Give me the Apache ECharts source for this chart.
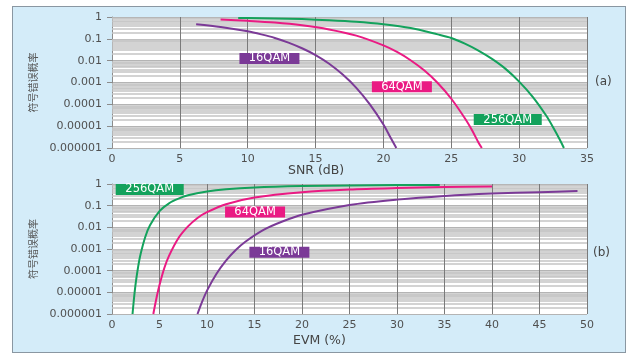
<!DOCTYPE html>
<html>
<head>
<meta charset="utf-8">
<script src="https://cdn.jsdelivr.net/npm/echarts@6/dist/echarts.min.js"></script>
<style>
  html, body { margin:0; padding:0; background:#ffffff; }
  #panel { position:absolute; left:12px; top:6px; width:612px; height:345px; background:#d4ecf9; border:1.5px solid #8a97a2; }
  #chart { position:absolute; left:0; top:0; width:640px; height:360px; }
</style>
</head>
<body>
<div id="panel"></div>
<div id="chart"></div>
<script>
// ---- data ----
const yTickLabels = ['0.000001','0.00001','0.0001','0.001','0.01','0.1','1'];
const snrTicks = [0,5,10,15,20,25,30,35];
const evmTicks = [0,5,10,15,20,25,30,35,40,45,50];

const snr16  = [6.2, 8, 10, 11, 12, 13, 14, 15, 16, 17, 18, 19, 20, 20.5, 20.95];
const ser16  = [0.47, 0.35, 0.22, 0.16, 0.11, 0.067, 0.037, 0.018, 0.0072, 0.0023, 0.00057, 0.0001, 0.000012, 0.0000032, 0.000001];
const snr64  = [8, 10, 12, 14, 16, 18, 20, 21, 22, 23, 24, 25, 26, 26.5, 27, 27.25];
const ser64  = [0.77, 0.67, 0.56, 0.42, 0.27, 0.14, 0.05, 0.025, 0.0105, 0.0036, 0.00095, 0.00018, 0.000023, 0.000007, 0.0000018, 0.000001];
const snr256 = [9.3, 10, 12, 14, 16, 18, 20, 22, 24, 25, 26, 27, 28, 29, 30, 31, 32, 32.5, 33, 33.3];
const ser256 = [0.91, 0.9, 0.86, 0.8, 0.71, 0.6, 0.46, 0.31, 0.16, 0.11, 0.06, 0.029, 0.012, 0.0042, 0.0011, 0.00022, 0.00003, 0.000009, 0.0000024, 0.000001];

const evm256  = [2.16, 2.3, 2.5, 2.75, 3, 3.5, 4, 5, 6, 7, 8, 10, 12, 15, 20, 25, 30, 34.5];
const ser256e = [0.000001, 0.0000045, 0.000027, 0.00015, 0.00056, 0.0036, 0.0125, 0.056, 0.128, 0.21, 0.3, 0.45, 0.57, 0.69, 0.8, 0.86, 0.89, 0.91];
const evm64   = [4.35, 4.5, 4.75, 5, 5.5, 6, 7, 8, 9, 10, 12, 15, 20, 25, 30, 35, 40];
const ser64e  = [0.000001, 0.0000022, 0.0000076, 0.000022, 0.00013, 0.00048, 0.0032, 0.011, 0.027, 0.05, 0.117, 0.24, 0.42, 0.56, 0.65, 0.72, 0.76];
const evm16   = [9, 9.5, 10, 11, 12, 13, 14, 16, 18, 20, 25, 30, 35, 40, 45, 49];
const ser16e  = [0.000001, 0.0000038, 0.000012, 0.000072, 0.00029, 0.00087, 0.0021, 0.0078, 0.019, 0.038, 0.107, 0.19, 0.28, 0.36, 0.42, 0.47];

// label anchor positions (data space)
const topLabelPos = { '16QAM':[11.6,0.0127], '64QAM':[21.36,0.00064], '256QAM':[29.16,0.00002] };
const botLabelPos = { '256QAM':[3.97,0.557], '64QAM':[15.06,0.051], '16QAM':[17.62,0.0007] };

// ---- styling ----
const colors = { '16QAM':'#7b3a97', '64QAM':'#ea1a83', '256QAM':'#13a25c' };
const FONT = 'DejaVu Sans';
const zip = (a,b) => a.map((v,i)=>[v,b[i]]);

// minor log gridline positions (2..9 in each decade), as exponents
const minorExp = [];
for (let e = -6; e < 0; e++) for (let m = 2; m <= 9; m++) minorExp.push(e + Math.log10(m));

function yAxisCfg(gridIndex) {
  return {
    type:'log', logBase:10, gridIndex, min:0.000001, max:1, interval:1,
    name:'符号错误概率', nameLocation:'middle', nameGap:73, nameRotate:90,
    nameTextStyle:{ fontFamily:'Noto Sans CJK SC', fontSize:10, color:'#555' },
    axisLine:{ show:true, lineStyle:{ color:'#8c8c8c', width:1 } },
    axisTick:{ show:true, length:5, lineStyle:{ color:'#8c8c8c' } },
    axisLabel:{ fontFamily:FONT, fontSize:11, color:'#505050', margin:10,
      formatter: v => yTickLabels[Math.round(Math.log10(v)) + 6] },
    splitLine:{ show:true, lineStyle:{ color:'#b4b4b4', width:1 } }
  };
}
function expAxisCfg(gridIndex) {
  return { type:'value', gridIndex, min:-6, max:0, show:false,
    axisLine:{show:false}, axisTick:{show:false}, axisLabel:{show:false}, splitLine:{show:false} };
}
function xAxisCfg(gridIndex, max, ticks) {
  return {
    type:'value', gridIndex, min:0, max, interval:5,
    axisLine:{ show:true, lineStyle:{ color:'#8c8c8c' } },
    axisTick:{ show:false },
    axisLabel:{ fontFamily:FONT, fontSize:11, color:'#505050', margin:6,
      formatter: v => String(ticks[Math.round(v/5)]) },
    splitLine:{ show:false }
  };
}
function gridLines(idx, xmax, xticks) {
  return { type:'line', xAxisIndex:idx, yAxisIndex:idx + 2, data:[], z:1, silent:true,
    markLine:{ silent:true, symbol:'none', animation:false, label:{show:false},
      lineStyle:{ color:'#c4c4c4', width:1.5, type:'solid' },
      data: minorExp.map(v => ({ yAxis:v }))
        .concat(xticks.slice(1).map(t => ({ xAxis:t, lineStyle:{ color:'#7a7a7a', width:1 } }))) } };
}
function curve(idx, name, xs, ys, pos) {
  return { type:'line', name, xAxisIndex:idx, yAxisIndex:idx, data:zip(xs,ys),
    showSymbol:false, smooth:0.3, z:5,
    lineStyle:{ color:colors[name], width:2 }, itemStyle:{ color:colors[name] },
    markPoint:{ symbol:'rect', symbolSize:[name.length>5?68:60, 11], silent:true, animation:false,
      itemStyle:{ color:colors[name] },
      label:{ show:true, formatter:name, color:'#ffffff', fontFamily:FONT, fontSize:11.5, position:'inside' },
      data:[{ coord:pos }] } };
}

const chart = echarts.init(document.getElementById('chart'), null, { renderer:'canvas' });
chart.setOption({
  backgroundColor:'transparent',
  animation:false,
  grid:[
    { left:112, right:53, top:17, height:131, backgroundColor:'#ffffff', show:true, borderWidth:0 },
    { left:112, right:53, top:184, height:130, backgroundColor:'#ffffff', show:true, borderWidth:0 }
  ],
  xAxis:[ xAxisCfg(0, 35, snrTicks), xAxisCfg(1, 50, evmTicks) ],
  yAxis:[ yAxisCfg(0), yAxisCfg(1), expAxisCfg(0), expAxisCfg(1) ],
  graphic:[
    { type:'text', left:288, top:164, style:{ text:'SNR (dB)', font:'12.5px "DejaVu Sans"', fill:'#444' } },
    { type:'text', left:293, top:334, style:{ text:'EVM (%)', font:'12.5px "DejaVu Sans"', fill:'#444' } },
    { type:'text', left:595, top:76, style:{ text:'(a)', font:'12px "DejaVu Sans"', fill:'#444' } },
    { type:'text', left:593, top:247, style:{ text:'(b)', font:'12px "DejaVu Sans"', fill:'#444' } }
  ],
  series:[
    gridLines(0, 35, snrTicks), gridLines(1, 50, evmTicks),
    curve(0,'16QAM', snr16, ser16, topLabelPos['16QAM']),
    curve(0,'64QAM', snr64, ser64, topLabelPos['64QAM']),
    curve(0,'256QAM', snr256, ser256, topLabelPos['256QAM']),
    curve(1,'256QAM', evm256, ser256e, botLabelPos['256QAM']),
    curve(1,'64QAM', evm64, ser64e, botLabelPos['64QAM']),
    curve(1,'16QAM', evm16, ser16e, botLabelPos['16QAM'])
  ]
});
</script>
</body>
</html>
